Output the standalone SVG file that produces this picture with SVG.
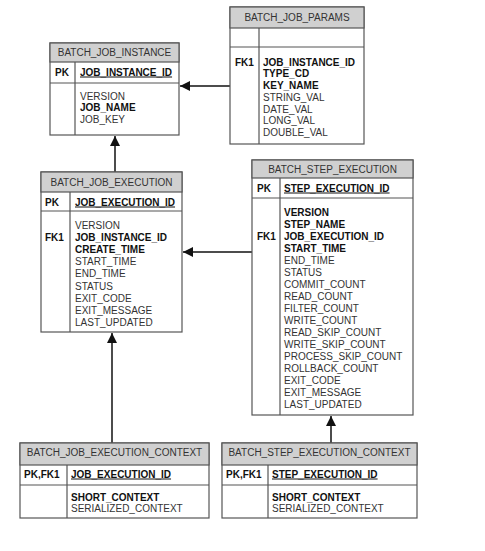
<svg xmlns="http://www.w3.org/2000/svg" width="485" height="551" viewBox="0 0 485 551">
<style>
text{font-family:"Liberation Sans",Arial,sans-serif;font-size:10px;fill:#333}
.hd{fill:#d0d0d0;stroke:#555;stroke-width:1.2}
.bx{fill:#fff;stroke:#555;stroke-width:1.2}
.ln{stroke:#555;stroke-width:1.2;fill:none}
.t{text-anchor:middle}
.b{font-weight:bold;fill:#111}
.u{font-weight:bold;fill:#111;text-decoration:underline}
.c{stroke:#111;stroke-width:1.5;fill:none;marker-end:url(#ah)}
</style>
<defs>
<marker id="ah" markerWidth="10" markerHeight="10" refX="10" refY="5" orient="auto" markerUnits="userSpaceOnUse">
<path d="M0,0 L10,5 L0,10 Z" fill="#111"/>
</marker>
</defs>
<rect width="485" height="551" fill="#fff"/>

<g id="connectors">
<line class="c" x1="230" y1="86" x2="180" y2="86"/>
<line class="c" x1="115" y1="172" x2="115" y2="136"/>
<line class="c" x1="252" y1="252" x2="183" y2="252"/>
<line class="c" x1="112" y1="443" x2="112" y2="333"/>
<line class="c" x1="331" y1="443" x2="331" y2="416"/>
</g>

<g id="batch_job_params">
<rect class="bx" x="230" y="7" width="134" height="137"/>
<rect class="hd" x="230" y="7" width="134" height="21"/>
<line class="ln" x1="230" y1="47" x2="364" y2="47"/>
<line class="ln" x1="259" y1="28" x2="259" y2="144"/>
<text class="t" x="297" y="21">BATCH_JOB_PARAMS</text>
<text class="b" x="235" y="65.5">FK1</text>
<text class="b" x="263" y="65.5">JOB_INSTANCE_ID</text>
<text class="b" x="263" y="77.3">TYPE_CD</text>
<text class="b" x="263" y="89">KEY_NAME</text>
<text x="263" y="100.8">STRING_VAL</text>
<text x="263" y="112.6">DATE_VAL</text>
<text x="263" y="124.4">LONG_VAL</text>
<text x="263" y="136.2">DOUBLE_VAL</text>
</g>

<g id="batch_job_instance">
<rect class="bx" x="50" y="43" width="129" height="92"/>
<rect class="hd" x="50" y="43" width="129" height="19"/>
<line class="ln" x1="50" y1="83" x2="179" y2="83"/>
<line class="ln" x1="75" y1="62" x2="75" y2="135"/>
<text class="t" x="114.5" y="56">BATCH_JOB_INSTANCE</text>
<text class="b" x="55" y="75.5">PK</text>
<text class="u" x="80" y="75.5">JOB_INSTANCE_ID</text>
<text x="80" y="99.5">VERSION</text>
<text class="b" x="80" y="111.3">JOB_NAME</text>
<text x="80" y="123">JOB_KEY</text>
</g>

<g id="batch_job_execution">
<rect class="bx" x="41" y="172" width="141" height="160"/>
<rect class="hd" x="41" y="172" width="141" height="20"/>
<line class="ln" x1="41" y1="211" x2="182" y2="211"/>
<line class="ln" x1="70" y1="192" x2="70" y2="332"/>
<text class="t" x="111.5" y="185.5">BATCH_JOB_EXECUTION</text>
<text class="b" x="45" y="205.5">PK</text>
<text class="u" x="75" y="205.5">JOB_EXECUTION_ID</text>
<text x="75" y="229">VERSION</text>
<text class="b" x="45" y="241.1">FK1</text>
<text class="b" x="75" y="241.1">JOB_INSTANCE_ID</text>
<text class="b" x="75" y="253.2">CREATE_TIME</text>
<text x="75" y="265.3">START_TIME</text>
<text x="75" y="277.4">END_TIME</text>
<text x="75" y="289.5">STATUS</text>
<text x="75" y="301.6">EXIT_CODE</text>
<text x="75" y="313.7">EXIT_MESSAGE</text>
<text x="75" y="325.8">LAST_UPDATED</text>
</g>

<g id="batch_step_execution">
<rect class="bx" x="252" y="160" width="161" height="255"/>
<rect class="hd" x="252" y="160" width="161" height="18"/>
<line class="ln" x1="252" y1="198" x2="413" y2="198"/>
<line class="ln" x1="280" y1="178" x2="280" y2="415"/>
<text class="t" x="332.5" y="172.7">BATCH_STEP_EXECUTION</text>
<text class="b" x="257" y="191.5">PK</text>
<text class="u" x="284" y="191.5">STEP_EXECUTION_ID</text>
<text class="b" x="284" y="216">VERSION</text>
<text class="b" x="284" y="228">STEP_NAME</text>
<text class="b" x="257" y="240">FK1</text>
<text class="b" x="284" y="240">JOB_EXECUTION_ID</text>
<text class="b" x="284" y="252">START_TIME</text>
<text x="284" y="264">END_TIME</text>
<text x="284" y="276">STATUS</text>
<text x="284" y="288">COMMIT_COUNT</text>
<text x="284" y="300">READ_COUNT</text>
<text x="284" y="312">FILTER_COUNT</text>
<text x="284" y="324">WRITE_COUNT</text>
<text x="284" y="336">READ_SKIP_COUNT</text>
<text x="284" y="348">WRITE_SKIP_COUNT</text>
<text x="284" y="360">PROCESS_SKIP_COUNT</text>
<text x="284" y="372">ROLLBACK_COUNT</text>
<text x="284" y="384">EXIT_CODE</text>
<text x="284" y="396">EXIT_MESSAGE</text>
<text x="284" y="408">LAST_UPDATED</text>
</g>

<g id="batch_job_execution_context">
<rect class="bx" x="20" y="443" width="189" height="75"/>
<rect class="hd" x="20" y="443" width="189" height="22"/>
<line class="ln" x1="20" y1="485" x2="209" y2="485"/>
<line class="ln" x1="67" y1="465" x2="67" y2="518"/>
<text class="t" x="114.5" y="456">BATCH_JOB_EXECUTION_CONTEXT</text>
<text class="b" x="24" y="477.5">PK,FK1</text>
<text class="u" x="71" y="477.5">JOB_EXECUTION_ID</text>
<text class="b" x="71" y="500.5">SHORT_CONTEXT</text>
<text x="71" y="512">SERIALIZED_CONTEXT</text>
</g>

<g id="batch_step_execution_context">
<rect class="bx" x="222" y="443" width="195" height="75"/>
<rect class="hd" x="222" y="443" width="195" height="22"/>
<line class="ln" x1="222" y1="485" x2="417" y2="485"/>
<line class="ln" x1="268" y1="465" x2="268" y2="518"/>
<text class="t" x="319.5" y="456">BATCH_STEP_EXECUTION_CONTEXT</text>
<text class="b" x="226" y="477.5">PK,FK1</text>
<text class="u" x="272" y="477.5">STEP_EXECUTION_ID</text>
<text class="b" x="272" y="500.5">SHORT_CONTEXT</text>
<text x="272" y="512">SERIALIZED_CONTEXT</text>
</g>
</svg>
